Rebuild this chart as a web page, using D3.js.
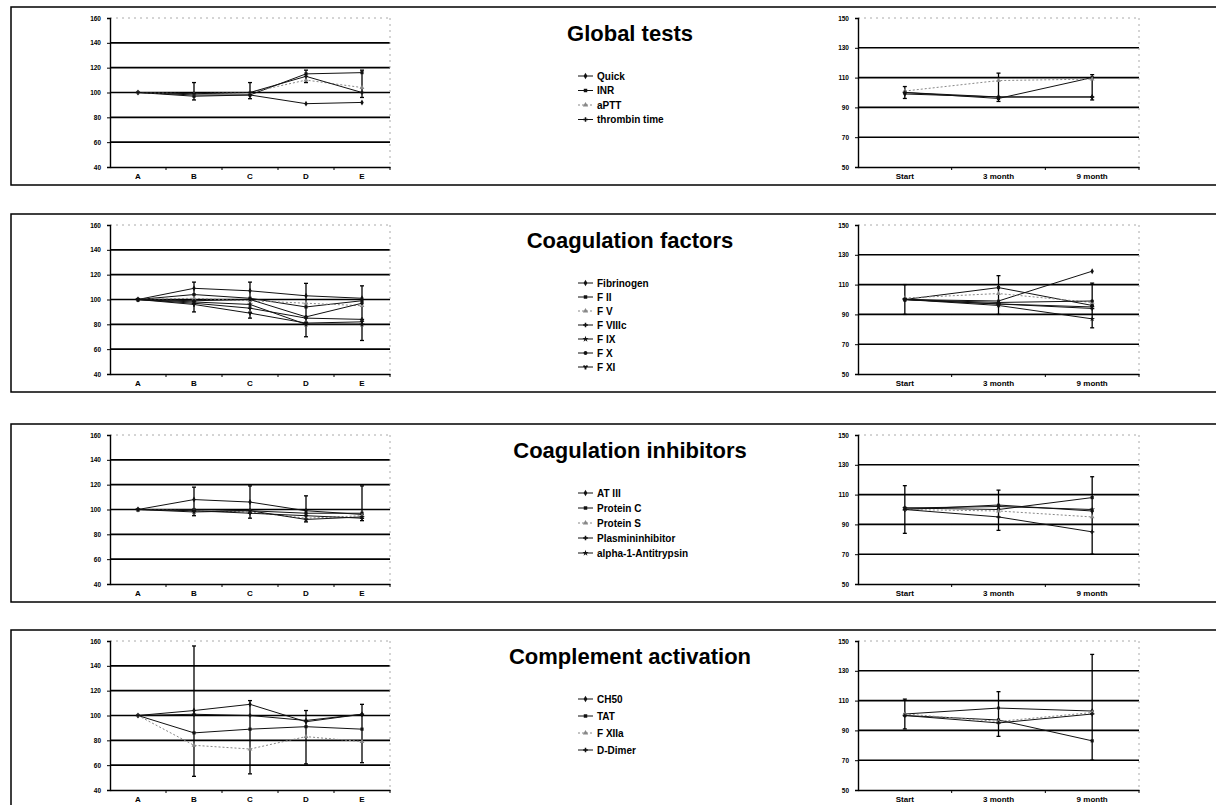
<!DOCTYPE html>
<meta charset="utf-8">
<script src="https://d3js.org/d3.v7.min.js"></script>
<style>
  body { margin: 0; background: #fff; }
  text { font-family: Arial, "Liberation Sans", sans-serif; font-weight: bold; }
</style>
<div id="my_dataviz"></div>
<script>
// categories
var leftCats = ["A", "B", "C", "D", "E"];
var rightCats = ["Start", "3 month", "9 month"];
var leftTicks = [40, 60, 80, 100, 120, 140, 160];
var rightTicks = [50, 70, 90, 110, 130, 150];

// panel titles
var titles = ["Global tests", "Coagulation factors", "Coagulation inhibitors", "Complement activation"];

// Global tests
var globalNames = ["Quick", "INR", "aPTT", "thrombin time"];
var globalLeft = [
  [100, 98, 98, 91, 92],
  [100, 97, 98, 115, 116],
  [100, 99, 100, 110, 104],
  [100, 99, 100, 113, 100]
];
var globalLeftErr = [null, [94, 108], [95, 108], [108, 118], [96, 118]];
var globalRight = [
  [99, 97, 97],
  [100, 96, 110],
  [101, 108, 109],
  [100, 97, 97]
];
var globalRightErr = [[96, 104], [94, 113], [95, 112]];

// Coagulation factors
var factorNames = ["Fibrinogen", "F II", "F V", "F VIIIc", "F IX", "F X", "F XI"];
var factorLeft = [
  [100, 109, 107, 103, 101],
  [100, 104, 101, 94, 99],
  [100, 101, 99, 97, 95],
  [100, 97, 93, 85, 84],
  [100, 98, 96, 80, 80],
  [100, 99, 100, 86, 97],
  [100, 96, 89, 81, 82]
];
var factorLeftErr = [null, [90, 114], [85, 114], [70, 113], [67, 111]];
var factorRight = [
  [100, 99, 119],
  [100, 108, 96],
  [101, 104, 98],
  [100, 97, 94],
  [100, 96, 87],
  [100, 98, 99],
  [100, 97, 95]
];
var factorRightErr = [[90, 110], [90, 116], [81, 111]];

// Coagulation inhibitors
var inhibitorNames = ["AT III", "Protein C", "Protein S", "Plasmininhibitor", "alpha-1-Antitrypsin"];
var inhibitorLeft = [
  [100, 108, 106, 99, 96],
  [100, 100, 99, 97, 97],
  [100, 99, 98, 93, 95],
  [100, 99, 97, 95, 93],
  [100, 98, 99, 92, 94]
];
var inhibitorLeftErr = [null, [95, 118], [93, 119], [90, 111], [91, 119]];
var inhibitorRight = [
  [100, 103, 99],
  [101, 100, 108],
  [100, 99, 95],
  [100, 95, 85],
  [101, 102, 100]
];
var inhibitorRightErr = [[84, 116], [86, 113], [70, 122]];

// Complement activation
var complementNames = ["CH50", "TAT", "F XIIa", "D-Dimer"];
var complementLeft = [
  [100, 104, 109, 95, 101],
  [100, 86, 89, 91, 89],
  [100, 76, 73, 83, 79],
  [100, 101, 100, 96, 101]
];
var complementLeftErr = [null, [51, 156], [53, 112], [61, 104], [62, 109]];
var complementRight = [
  [101, 105, 103],
  [100, 97, 83],
  [101, 96, 102],
  [100, 95, 101]
];
var complementRightErr = [[91, 111], [86, 116], [70, 141]];

var panels = [
  {names: globalNames, left: globalLeft, leftErr: globalLeftErr, right: globalRight, rightErr: globalRightErr},
  {names: factorNames, left: factorLeft, leftErr: factorLeftErr, right: factorRight, rightErr: factorRightErr},
  {names: inhibitorNames, left: inhibitorLeft, leftErr: inhibitorLeftErr, right: inhibitorRight, rightErr: inhibitorRightErr},
  {names: complementNames, left: complementLeft, leftErr: complementLeftErr, right: complementRight, rightErr: complementRightErr}
];

// layout
var boxTops = [7, 214, 424, 630];
var legendGap = [14.5, 14, 15, 17];
var plotH = 149;

var svg = d3.select("#my_dataviz")
  .append("svg")
    .attr("width", 1216)
    .attr("height", 805);

var symbols = [d3.symbolDiamond, d3.symbolSquare, d3.symbolTriangle, d3.symbolCross,
               d3.symbolStar, d3.symbolCircle, d3.symbolWye];

function seriesColor(i) { return i == 2 ? "#888" : "#111"; }
function seriesDash(i) { return i == 2 ? "2,2" : null; }

function drawChart(g, cats, ticks, series, errs, x0, x1, top) {
  var x = d3.scaleBand().domain(cats).range([x0, x1]);
  var y = d3.scaleLinear().domain([ticks[0], ticks[ticks.length - 1]]).range([top + plotH, top]);

  // gridlines
  g.selectAll(".grid")
    .data(ticks.slice(1, -1))
    .enter().append("line")
      .attr("x1", x0).attr("x2", x1)
      .attr("y1", d => y(d)).attr("y2", d => y(d))
      .attr("stroke", "#000").attr("stroke-width", 1.6);

  // top and right dotted border
  g.append("line")
    .attr("x1", x0).attr("x2", x1)
    .attr("y1", y.range()[1]).attr("y2", y.range()[1])
    .attr("stroke", "#aaa").attr("stroke-dasharray", "2,4");
  g.append("line")
    .attr("x1", x1).attr("x2", x1)
    .attr("y1", y.range()[1]).attr("y2", y.range()[0])
    .attr("stroke", "#aaa").attr("stroke-dasharray", "2,4");

  // y axis
  var ya = g.append("g")
    .attr("transform", "translate(" + x0 + ",0)")
    .call(d3.axisLeft(y).tickValues(ticks).tickSize(3));
  ya.select(".domain").attr("stroke-width", 1.4);
  ya.selectAll("text").style("font-size", "6.5px").style("font-weight", "bold").attr("dx", -3);

  // x axis with ticks at band edges
  var xa = g.append("g")
    .attr("transform", "translate(0," + (top + plotH) + ")")
    .call(d3.axisBottom(x).tickSize(0).tickPadding(6));
  xa.select(".domain").attr("stroke-width", 1.4);
  xa.selectAll("text").style("font-size", "8px").style("font-weight", "bold");
  g.selectAll(".xtick")
    .data(cats)
    .enter().append("line")
      .attr("x1", d => x(d) + x.bandwidth()).attr("x2", d => x(d) + x.bandwidth())
      .attr("y1", top + plotH).attr("y2", top + plotH + 3)
      .attr("stroke", "#000");

  var cx = d => x(d) + x.bandwidth() / 2;

  // error bars
  g.selectAll(".err")
    .data(errs.map((e, i) => ({e: e, c: cats[i]})).filter(d => d.e))
    .enter().append("g")
    .each(function(d) {
      var eg = d3.select(this);
      eg.append("line")
        .attr("x1", cx(d.c)).attr("x2", cx(d.c))
        .attr("y1", y(d.e[0])).attr("y2", y(d.e[1]))
        .attr("stroke", "#000").attr("stroke-width", 1.3);
      d.e.forEach(v => {
        eg.append("line")
          .attr("x1", cx(d.c) - 2).attr("x2", cx(d.c) + 2)
          .attr("y1", y(v)).attr("y2", y(v))
          .attr("stroke", "#000").attr("stroke-width", 1.3);
      });
    });

  // series lines and markers
  var line = d3.line().x((d, i) => cx(cats[i])).y(d => y(d));
  series.forEach((s, i) => {
    g.append("path")
      .attr("d", line(s))
      .attr("fill", "none")
      .attr("stroke", seriesColor(i))
      .attr("stroke-width", 1)
      .attr("stroke-dasharray", seriesDash(i));
    g.selectAll(".m" + i)
      .data(s)
      .enter().append("path")
        .attr("d", d3.symbol().type(symbols[i % symbols.length]).size(10))
        .attr("transform", (d, j) => "translate(" + cx(cats[j]) + "," + y(d) + ")")
        .attr("fill", seriesColor(i));
  });
}

panels.forEach((p, k) => {
  var top = boxTops[k];
  var g = svg.append("g");

  // panel frame
  g.append("rect")
    .attr("x", 11).attr("y", top)
    .attr("width", 1215).attr("height", 178)
    .attr("fill", "none").attr("stroke", "#000").attr("stroke-width", 1.5);

  var plotTop = top + 11;
  drawChart(g, leftCats, leftTicks, p.left, p.leftErr, 110, 390, plotTop);
  drawChart(g, rightCats, rightTicks, p.right, p.rightErr, 858, 1139, plotTop);

  // title
  g.append("text")
    .attr("x", 630).attr("y", top + 34)
    .attr("text-anchor", "middle")
    .style("font-size", "22px")
    .text(titles[k]);

  // legend
  var lg = g.append("g");
  p.names.forEach((n, i) => {
    var ly = top + 69 + i * legendGap[k];
    lg.append("line")
      .attr("x1", 578).attr("x2", 593)
      .attr("y1", ly).attr("y2", ly)
      .attr("stroke", seriesColor(i))
      .attr("stroke-dasharray", seriesDash(i));
    lg.append("path")
      .attr("d", d3.symbol().type(symbols[i % symbols.length]).size(12))
      .attr("transform", "translate(585.5," + ly + ")")
      .attr("fill", seriesColor(i));
    lg.append("text")
      .attr("x", 597).attr("y", ly + 3.5)
      .style("font-size", "10px")
      .text(n);
  });
});
</script>
